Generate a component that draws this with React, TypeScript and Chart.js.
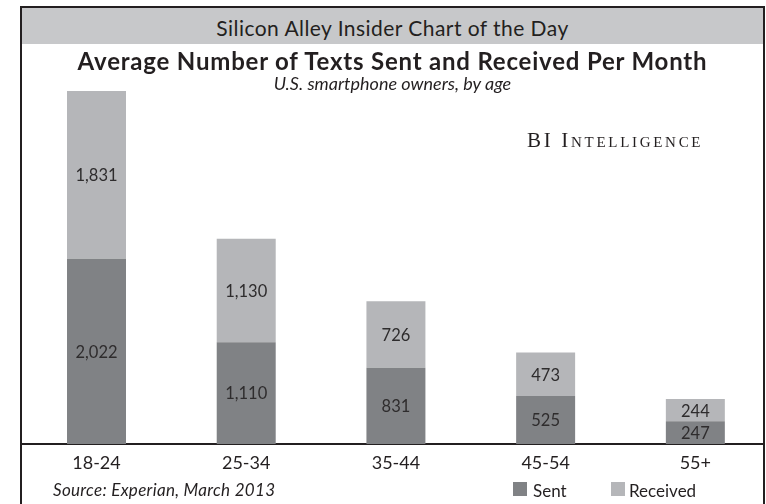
import React, { useEffect, useRef } from "react";
import { Chart, registerables } from "chart.js";

Chart.register(...registerables);

const categories = ["18-24", "25-34", "35-44", "45-54", "55+"];
const sentValues = [2022, 1110, 831, 525, 247];
const receivedValues = [1831, 1130, 726, 473, 244];
const seriesNames = ["Sent", "Received"];

const SENT_COLOR = "#808285";
const RECEIVED_COLOR = "#b5b6b9";
const INK = "#231f20";
const FONT = "Lato, 'Open Sans', sans-serif";

const valueLabels = {
  id: "valueLabels",
  afterDatasetsDraw(chart: any) {
    const { ctx } = chart;
    ctx.save();
    ctx.font = `16.5px ${FONT}`;
    ctx.fillStyle = "#2e2c2d";
    ctx.textAlign = "center";
    ctx.textBaseline = "middle";
    chart.data.datasets.forEach((ds: any, i: number) => {
      const meta = chart.getDatasetMeta(i);
      meta.data.forEach((bar: any, j: number) => {
        const { x, y, base } = bar.getProps(["x", "y", "base"], true);
        ctx.fillText(Number(ds.data[j]).toLocaleString("en-US"), x, (y + base) / 2 + 1);
      });
    });
    ctx.restore();
  },
};

export default function App() {
  const canvasRef = useRef<HTMLCanvasElement>(null);

  useEffect(() => {
    const canvas = canvasRef.current;
    if (!canvas) return;
    const chart = new Chart(canvas, {
      type: "bar",
      data: {
        labels: categories,
        datasets: [
          { label: seriesNames[0], data: sentValues, backgroundColor: SENT_COLOR, borderWidth: 0 },
          { label: seriesNames[1], data: receivedValues, backgroundColor: RECEIVED_COLOR, borderWidth: 0 },
        ],
      },
      options: {
        responsive: false,
        animation: false,
        devicePixelRatio: 1,
        layout: { padding: { left: 1.65, right: 9.8, top: 77.5, bottom: 22.4 } },
        datasets: { bar: { categoryPercentage: 1, barPercentage: 0.394 } },
        plugins: {
          legend: { display: false },
          tooltip: { enabled: false },
          title: { display: false },
        },
        scales: {
          x: {
            stacked: true,
            z: 1,
            grid: { display: false, drawTicks: false },
            border: { display: true, color: INK, width: 2 },
            ticks: { color: INK, font: { family: FONT, size: 18 }, padding: 8 },
          },
          y: { stacked: true, display: false, min: 0, max: 4000 },
        },
      },
      plugins: [valueLabels],
    });
    return () => chart.destroy();
  }, []);

  const abs = (s: React.CSSProperties): React.CSSProperties => ({ position: "absolute", ...s });

  return (
    <div
      style={{
        position: "fixed",
        left: 0,
        top: 0,
        width: 766,
        height: 504,
        overflow: "hidden",
        background: "#ffffff",
        fontFamily: FONT,
        color: INK,
      }}
    >
      {/* header band */}
      <div
        style={abs({
          left: 22,
          top: 8,
          width: 741,
          height: 36,
          background: "#c7c8ca",
          textAlign: "center",
          fontSize: 21,
          letterSpacing: "0.45px",
          lineHeight: "40px",
          whiteSpace: "nowrap",
        })}
      >
        Silicon Alley Insider Chart of the Day
      </div>

      {/* chart canvas, clipped to panel interior */}
      <div style={abs({ left: 22, top: 8, width: 741, height: 496, overflow: "hidden" })}>
        <canvas ref={canvasRef} width={760} height={504} style={abs({ left: -2, top: -8, width: 760, height: 504 })} />
      </div>

      {/* panel border */}
      <div
        style={abs({
          left: 20,
          top: 6,
          width: 745,
          height: 560,
          border: `2px solid ${INK}`,
          boxSizing: "border-box",
          pointerEvents: "none",
        })}
      />

      {/* title */}
      <div
        style={abs({
          left: 20,
          width: 745,
          top: 45.5,
          height: 30,
          lineHeight: "30px",
          textAlign: "center",
          fontSize: 24,
          letterSpacing: "0.8px",
          fontWeight: 700,
          whiteSpace: "nowrap",
        })}
      >
        Average Number of Texts Sent and Received Per Month
      </div>

      {/* subtitle */}
      <div
        style={abs({
          left: 20,
          width: 745,
          top: 71,
          height: 24,
          lineHeight: "24px",
          textAlign: "center",
          fontSize: 18,
          fontStyle: "italic",
          whiteSpace: "nowrap",
        })}
      >
        U.S. smartphone owners, by age
      </div>

      {/* brand */}
      <div
        style={abs({
          left: 527,
          top: 128,
          height: 24,
          lineHeight: "24px",
          fontFamily: "'Liberation Serif', 'DejaVu Serif', serif",
          fontSize: 21,
          fontVariant: "small-caps",
          letterSpacing: "2.7px",
          whiteSpace: "nowrap",
        })}
      >
        BI Intelligence
      </div>

      {/* source */}
      <div
        style={abs({
          left: 53,
          top: 479,
          height: 22,
          lineHeight: "22px",
          fontSize: 17,
          letterSpacing: "0.3px",
          fontStyle: "italic",
          whiteSpace: "nowrap",
        })}
      >
        Source: Experian, March 2013
      </div>

      {/* legend */}
      <div style={abs({ left: 513, top: 482, width: 14, height: 14, background: SENT_COLOR })} />
      <div style={abs({ left: 533, top: 480, height: 22, lineHeight: "22px", fontSize: 17, whiteSpace: "nowrap" })}>
        {seriesNames[0]}
      </div>
      <div style={abs({ left: 611, top: 482, width: 14, height: 14, background: RECEIVED_COLOR })} />
      <div style={abs({ left: 629, top: 480, height: 22, lineHeight: "22px", fontSize: 17, whiteSpace: "nowrap" })}>
        {seriesNames[1]}
      </div>
    </div>
  );
}
